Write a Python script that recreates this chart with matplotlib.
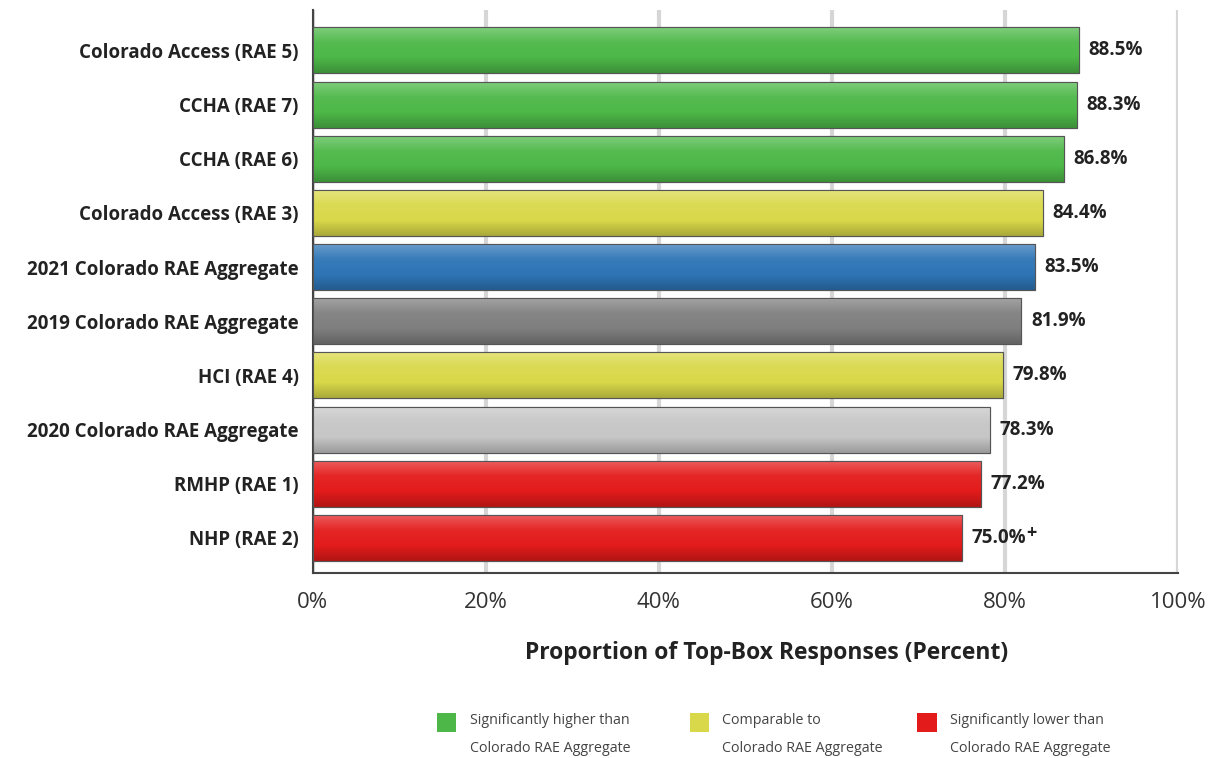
import numpy as np
import matplotlib.pyplot as plt
from matplotlib.colors import LinearSegmentedColormap, to_rgb
from matplotlib.patches import Rectangle

plt.rcParams['font.family'] = ['Open Sans', 'DejaVu Sans']

# data
plans = ["Colorado Access (RAE 5)", "CCHA (RAE 7)", "CCHA (RAE 6)",
         "Colorado Access (RAE 3)", "2021 Colorado RAE Aggregate",
         "2019 Colorado RAE Aggregate", "HCI (RAE 4)",
         "2020 Colorado RAE Aggregate", "RMHP (RAE 1)", "NHP (RAE 2)"]
values = [88.5, 88.3, 86.8, 84.4, 83.5, 81.9, 79.8, 78.3, 77.2, 75.0]
groups = ["higher", "higher", "higher", "comparable", "agg2021",
          "agg2019", "comparable", "agg2020", "lower", "lower"]
marks = ["", "", "", "", "", "", "", "", "", "+"]

colors = {"higher": "#4db848", "comparable": "#d9d84a", "lower": "#e31b1b",
          "agg2021": "#2e75b6", "agg2019": "#7f7f7f", "agg2020": "#c6c6c6"}
legend_items = [("higher", "Significantly higher than\nColorado RAE Aggregate"),
                ("comparable", "Comparable to\nColorado RAE Aggregate"),
                ("lower", "Significantly lower than\nColorado RAE Aggregate")]


def shade(c, f):
    r = np.array(to_rgb(c))
    if f > 0:
        return tuple(r + (1 - r) * f)
    return tuple(r * (1 + f))


fig = plt.figure(figsize=(12.12, 7.58), dpi=100)
ax = fig.add_axes([0.258, 0.244, 0.714, 0.743])

y = np.arange(len(plans))
bars = ax.barh(y, values, height=0.85, color=[colors[g] for g in groups],
               edgecolor="#555555", linewidth=0.8, zorder=3)

# glossy gradient on each bar
grad = np.linspace(0, 1, 100).reshape(-1, 1)
for b, g in zip(bars, groups):
    c = colors[g]
    cmap = LinearSegmentedColormap.from_list(
        "g", [shade(c, 0.3), shade(c, 0.05), c, shade(c, -0.22)])
    x0, y0 = b.get_x(), b.get_y()
    w, h = b.get_width(), b.get_height()
    im = ax.imshow(grad, cmap=cmap, aspect="auto", zorder=4,
                   extent=[x0, x0 + w, y0 + h, y0], origin="upper")
    im.set_clip_path(b)
    ax.add_patch(Rectangle((x0, y0), w, h, fill=False, edgecolor="#555555",
                           linewidth=0.8, zorder=5))

for yi, v, m in zip(y, values, marks):
    t = ax.text(v + 1.1, yi, f"{v:.1f}%", va="center", ha="left",
                fontsize=13.5, fontweight="bold", color="#222222", zorder=6)
    if m:
        ax.annotate(m, xy=(1, 1), xycoords=t, xytext=(0, -4),
                    textcoords="offset points", ha="left", va="center",
                    fontsize=13, fontweight="bold", color="#222222", zorder=6)

ax.set_xlim(0, 100)
ax.set_ylim(len(plans) - 0.35, -0.75)
ax.set_yticks(y)
ax.set_yticklabels(plans, fontsize=13.5, fontweight="bold", color="#222222")
ax.set_xticks(np.arange(0, 101, 20))
ax.set_xticklabels([f"{t}%" for t in range(0, 101, 20)], fontsize=16,
                   color="#333333")
ax.tick_params(axis="y", length=0, pad=10)
ax.tick_params(axis="x", length=0, pad=14)
ax.grid(axis="x", color="#d6d6d6", linewidth=3, zorder=0)
ax.set_axisbelow(True)
for s in ["top", "right"]:
    ax.spines[s].set_visible(False)
for s in ["left", "bottom"]:
    ax.spines[s].set_color("#444444")
    ax.spines[s].set_linewidth(1.5)
ax.set_xlabel("Proportion of Top-Box Responses (Percent)", fontsize=16.5,
              fontweight="bold", color="#222222", labelpad=20)
ax.xaxis.label.set_x(0.525)

# legend
lx = [0.3605, 0.569, 0.757]
for xpos, (g, label) in zip(lx, legend_items):
    fig.patches.append(Rectangle((xpos, 0.034), 0.0157, 0.025,
                                 transform=fig.transFigure, facecolor=colors[g],
                                 edgecolor="none"))
    fig.text(xpos + 0.027, 0.031, label, fontsize=10.3, color="#444444",
             va="center", ha="left", linespacing=2.2)

fig.savefig("out.png", dpi=100)
